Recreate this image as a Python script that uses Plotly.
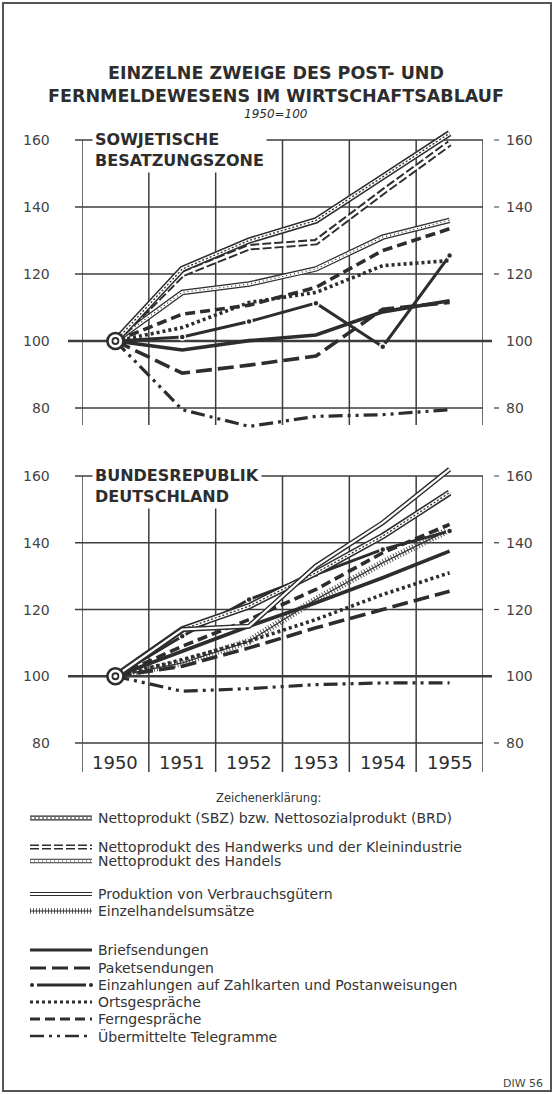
import plotly.graph_objects as go

W, H = 554, 1094

# ---------------- data ----------------
years = [1950, 1951, 1952, 1953, 1954, 1955]
base_value = 100
y_ticks = [80, 100, 120, 140, 160]

# Sowjetische Besatzungszone (1950 = 100)
sbz_netto = [100, 121.5, 130, 136, 149, 162]
sbz_handwerk = [100, 120, 128, 129.5, 144.5, 159]
sbz_handel = [100, 114.5, 117, 121.5, 131, 136]
sbz_brief = [100, 97.3, 100.1, 101.8, 108.7, 112]
sbz_paket = [100, 90.4, 92.8, 95.5, 109.5, 111.5]
sbz_einzahl = [100, 101.2, 105.8, 111.3, 98.3, 125.5]
sbz_orts = [100, 104, 111.5, 114.5, 122.5, 124]
sbz_fern = [100, 108, 110.7, 116, 127, 133.5]
sbz_teleg = [100, 79.5, 74.5, 77.5, 78, 79.5]

# Bundesrepublik Deutschland (1950 = 100)
brd_netto = [100, 114, 121, 131, 142, 155]
brd_verbrauch = [100, 114, 115, 133, 146, 162]
brd_einzelhandel = [100, 104, 110.5, 123, 134, 144]
brd_brief = [100, 107.5, 115, 122, 129.5, 137.5]
brd_paket = [100, 103, 108.5, 114.5, 120, 125.5]
brd_einzahl = [100, 112, 123, 130.5, 138, 143.5]
brd_orts = [100, 105, 110.5, 117, 124.5, 131]
brd_fern = [100, 109, 117, 126, 137, 145.5]
brd_teleg = [100, 95.5, 96.3, 97.5, 98, 98]

legend_labels = [
    "Nettoprodukt (SBZ) bzw. Nettosozialprodukt (BRD)",
    "Nettoprodukt des Handwerks und der Kleinindustrie",
    "Nettoprodukt des Handels",
    "Produktion von Verbrauchsgütern",
    "Einzelhandelsumsätze",
    "Briefsendungen",
    "Paketsendungen",
    "Einzahlungen auf Zahlkarten und Postanweisungen",
    "Ortsgespräche",
    "Ferngespräche",
    "Übermittelte Telegramme",
]
legend_styles = ["netto", "handwerk", "handel", "verbrauch", "einzelhandel",
                 "brief", "paket", "einzahl", "orts", "fern", "teleg"]

# ---------------- styles ----------------
INK = "#2d2d2d"
GRID = "#3c3c3c"
FONT = "DejaVu Sans"
STYLES = {
    "netto": [(INK, 6.5, "solid"), ("white", 3.4, "solid"), (INK, 1.3, "2px,2px")],
    "handwerk": [(INK, 6.5, "9px,3px"), ("white", 2.6, "solid")],
    "handel": [(INK, 5.5, "solid"), ("white", 3.0, "solid"), (INK, 1.2, "1px,3px")],
    "verbrauch": [(INK, 5.0, "solid"), ("white", 2.2, "solid")],
    "einzelhandel": [("#555555", 7, "1px,2px"), (INK, 1.2, "solid")],
    "brief": [(INK, 3.6, "solid")],
    "paket": [(INK, 3.6, "16px,6px")],
    "einzahl": [(INK, 3.0, "solid")],
    "orts": [(INK, 3.6, "3px,3px")],
    "fern": [(INK, 3.6, "10px,5px")],
    "teleg": [(INK, 3.2, "14px,5px,3px,5px,3px,5px")],
}

top_series = [("handel", sbz_handel), ("handwerk", sbz_handwerk), ("netto", sbz_netto),
              ("fern", sbz_fern), ("orts", sbz_orts), ("paket", sbz_paket),
              ("brief", sbz_brief), ("einzahl", sbz_einzahl), ("teleg", sbz_teleg)]
bottom_series = [("einzelhandel", brd_einzelhandel), ("paket", brd_paket), ("orts", brd_orts),
                 ("brief", brd_brief), ("einzahl", brd_einzahl), ("fern", brd_fern),
                 ("netto", brd_netto), ("verbrauch", brd_verbrauch), ("teleg", brd_teleg)]

# ---------------- layout geometry (pixels) ----------------
X_LEFT, X_RIGHT = 82, 483
TOP_160_PX, TOP_PPU, TOP_BOTTOM_PX = 140, 3.35, 425
BOT_160_PX, BOT_PPU, BOT_BOTTOM_PX = 476, 3.3375, 772
RANGE_TOP = 165


def px(x):
    return x / W


def py(y):
    return 1 - y / H


def val_at(px_y, ref_px, ppu):
    return 160 - (px_y - ref_px) / ppu


top_lo = val_at(430, TOP_160_PX, TOP_PPU)
top_grid_lo = val_at(TOP_BOTTOM_PX, TOP_160_PX, TOP_PPU)
top_dom = [py(430), py(TOP_160_PX - (RANGE_TOP - 160) * TOP_PPU)]
bot_lo = val_at(BOT_BOTTOM_PX, BOT_160_PX, BOT_PPU)
bot_dom = [py(BOT_BOTTOM_PX), py(BOT_160_PX - (RANGE_TOP - 160) * BOT_PPU)]

col_edges = [years[0] - 0.5 + i for i in range(len(years) + 1)]

fig = go.Figure()


def add_series(yvals, style, xa, ya):
    for color, width, dash in STYLES[style]:
        fig.add_trace(go.Scatter(x=years, y=yvals, mode="lines",
                                 line=dict(color=color, width=width, dash=dash),
                                 xaxis=xa, yaxis=ya, showlegend=False, hoverinfo="skip"))
    if style == "einzahl":
        fig.add_trace(go.Scatter(x=years[1:], y=yvals[1:], mode="markers",
                                 marker=dict(size=6, color=INK, line=dict(color="white", width=1.5)),
                                 xaxis=xa, yaxis=ya, showlegend=False, hoverinfo="skip",
                                 cliponaxis=False))


for st, vals in top_series:
    add_series(vals, st, "x", "y")
for st, vals in bottom_series:
    add_series(vals, st, "x2", "y2")

# origin rings
for xa, ya in (("x", "y"), ("x2", "y2")):
    fig.add_trace(go.Scatter(x=[years[0]], y=[base_value], mode="markers",
                             marker=dict(size=16, color="white", line=dict(color=INK, width=2.6)),
                             xaxis=xa, yaxis=ya, showlegend=False, hoverinfo="skip", cliponaxis=False))
    fig.add_trace(go.Scatter(x=[years[0]], y=[base_value], mode="markers",
                             marker=dict(size=6, color="white", line=dict(color=INK, width=1.8)),
                             xaxis=xa, yaxis=ya, showlegend=False, hoverinfo="skip", cliponaxis=False))

shapes = []
annotations = []

# grids
for (xr, yr, grid_lo) in (("x", "y", top_grid_lo), ("x2", "y2", bot_lo)):
    for e in col_edges:
        shapes.append(dict(type="line", xref=xr, yref=yr, x0=e, x1=e, y0=grid_lo, y1=160,
                           line=dict(color=GRID, width=1.5), layer="below"))
    for v in y_ticks:
        if v == base_value:
            shapes.append(dict(type="line", xref="paper", yref=yr, x0=px(68), x1=px(492), y0=v, y1=v,
                               line=dict(color=GRID, width=2.6), layer="below"))
        else:
            shapes.append(dict(type="line", xref="paper", yref=yr, x0=px(75), x1=px(X_RIGHT), y0=v, y1=v,
                               line=dict(color=GRID, width=1.3), layer="below"))
            shapes.append(dict(type="line", xref="paper", yref=yr, x0=px(494), x1=px(499), y0=v, y1=v,
                               line=dict(color=GRID, width=1.2), layer="below"))
        annotations.append(dict(x=px(52), xref="paper", y=v, yref=yr, text=str(v), showarrow=False,
                                xanchor="right", yanchor="middle",
                                font=dict(family=FONT, size=14, color="#444")))
        annotations.append(dict(x=px(504), xref="paper", y=v, yref=yr, text=str(v), showarrow=False,
                                xanchor="left", yanchor="middle",
                                font=dict(family=FONT, size=14, color="#444")))

# year labels
for yv in years:
    annotations.append(dict(x=yv, xref="x2", y=74.3, yref="y2", text=str(yv), showarrow=False,
                            xanchor="center", yanchor="middle",
                            font=dict(family=FONT, size=18, color=INK)))

# panel labels
annotations.append(dict(x=px(92), xref="paper", y=py(127), yref="paper", xanchor="left", yanchor="top",
                        text="<b>SOWJETISCHE<br>BESATZUNGSZONE</b>", align="left", showarrow=False,
                        bgcolor="white", borderpad=2, font=dict(family=FONT, size=16, color=INK)))
annotations.append(dict(x=px(92), xref="paper", y=py(463), yref="paper", xanchor="left", yanchor="top",
                        text="<b>BUNDESREPUBLIK<br>DEUTSCHLAND</b>", align="left", showarrow=False,
                        bgcolor="white", borderpad=2, font=dict(family=FONT, size=16, color=INK)))

# titles
annotations.append(dict(x=px(276), xref="paper", y=py(84), yref="paper", xanchor="center", yanchor="middle",
                        text="<b>EINZELNE ZWEIGE DES POST- UND<br>FERNMELDEWESENS IM WIRTSCHAFTSABLAUF</b>",
                        showarrow=False, font=dict(family=FONT, size=17.5, color=INK)))
annotations.append(dict(x=px(276), xref="paper", y=py(114), yref="paper", xanchor="center", yanchor="middle",
                        text="<i>1950=100</i>", showarrow=False, font=dict(family=FONT, size=12, color=INK)))

# legend
annotations.append(dict(x=px(268), xref="paper", y=py(798), yref="paper", xanchor="center", yanchor="middle",
                        text="Zeichenerklärung:", showarrow=False, font=dict(family=FONT, size=11.5, color="#333")))
legend_rows = [818, 847, 861, 894, 911, 950, 968, 985, 1002, 1019, 1036]
LX0, LX1 = 30, 92
for label, st, ry in zip(legend_labels, legend_styles, legend_rows):
    if st == "einzahl":
        shapes.append(dict(type="line", xref="paper", yref="paper", x0=px(37), x1=px(86), y0=py(ry), y1=py(ry),
                           line=dict(color=INK, width=3)))
        for cx in (32, 91):
            shapes.append(dict(type="circle", xref="paper", yref="paper", x0=px(cx - 2), x1=px(cx + 2),
                               y0=py(ry + 2), y1=py(ry - 2), fillcolor=INK, line=dict(color=INK, width=0)))
    else:
        for color, width, dash in STYLES[st]:
            shapes.append(dict(type="line", xref="paper", yref="paper", x0=px(LX0), x1=px(LX1),
                               y0=py(ry), y1=py(ry), line=dict(color=color, width=width * 0.8, dash=dash)))
    annotations.append(dict(x=px(96), xref="paper", y=py(ry), yref="paper", xanchor="left", yanchor="middle",
                            text=label, showarrow=False, font=dict(family=FONT, size=14, color="#333")))

annotations.append(dict(x=px(545), xref="paper", y=py(1083), yref="paper", xanchor="right", yanchor="middle",
                        text="DIW 56", showarrow=False, font=dict(family=FONT, size=11, color="#444")))

# outer border
shapes.append(dict(type="rect", xref="paper", yref="paper", x0=px(3), x1=px(551), y0=py(1091), y1=py(3),
                   line=dict(color="#555", width=2)))

axis_common = dict(showgrid=False, zeroline=False, showticklabels=False, showline=False, ticks="")
fig.update_layout(
    width=W, height=H, autosize=False,
    margin=dict(l=0, r=0, t=0, b=0),
    paper_bgcolor="white", plot_bgcolor="rgba(0,0,0,0)",
    showlegend=False,
    xaxis=dict(domain=[px(X_LEFT), px(X_RIGHT)], range=[col_edges[0], col_edges[-1]], anchor="y", **axis_common),
    yaxis=dict(domain=top_dom, range=[top_lo, RANGE_TOP], anchor="x", **axis_common),
    xaxis2=dict(domain=[px(X_LEFT), px(X_RIGHT)], range=[col_edges[0], col_edges[-1]], anchor="y2", **axis_common),
    yaxis2=dict(domain=bot_dom, range=[bot_lo, RANGE_TOP], anchor="x2", **axis_common),
    shapes=shapes, annotations=annotations,
)

fig.write_html("out.html", config={"displayModeBar": False},
               post_script="document.body.style.margin='0px';document.body.style.overflow='hidden';")
